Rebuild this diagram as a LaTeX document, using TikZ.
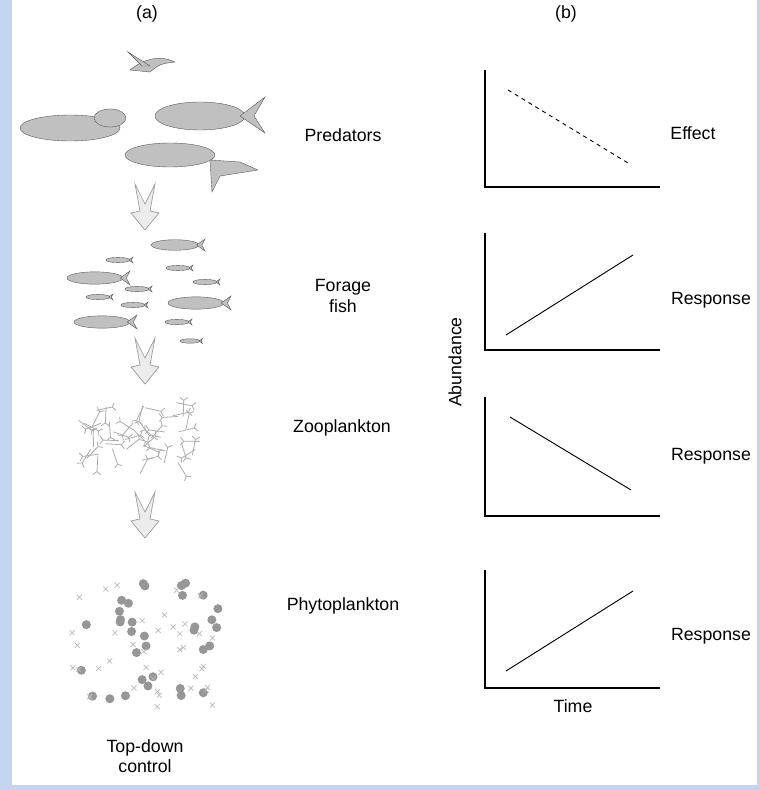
\documentclass[tikz,border=0pt]{standalone}
\usepackage{fontspec}
\setmainfont{Liberation Sans}
\usetikzlibrary{positioning,calc}

\definecolor{bgblue}{RGB}{196,212,238}
\definecolor{critter}{RGB}{150,150,150}

\tikzset{
    label/.style={font=\fontsize{13.3}{15.5}\selectfont, align=center},
    axes/.style={draw=black, line width=0.8pt},
    trend/.style={draw=black, line width=0.7pt},
    chevron/.style={draw=gray!80, fill=gray!15, line width=0.5pt},
    body/.style={draw=gray!70!black, fill=critter!60, line width=0.3pt}
}

% small fish: centre, half length
\newcommand{\fishat}[3]{%
    \fill[body] (#1,#2) ellipse ({#3} and {#3*0.22});
    \fill[body] (#1+#3*0.9,#2) -- (#1+#3*1.25,#2-#3*0.25) -- (#1+#3*1.12,#2) -- (#1+#3*1.25,#2+#3*0.25) -- cycle;
}
% hollow down arrow, top centre
\newcommand{\downchevron}[2]{%
    \draw[chevron] (#1-10,#2) -- (#1,#2+20) -- (#1+10,#2) -- (#1+5,#2+27)
        -- (#1+14,#2+29) -- (#1,#2+46) -- (#1-14,#2+29) -- (#1-5,#2+27) -- cycle;
}

\begin{document}
\begin{tikzpicture}[x=0.75pt, y=-0.75pt]
    % background
    \fill[bgblue] (0,0) rectangle (759,789);
    \fill[white] (12,0) rectangle (757,785);
    \useasboundingbox (0,0) rectangle (759,789);

    % Panel titles
    \node[label] (ta) at (147,14) {(a)};
    \node[label] (tb) at (566,14) {(b)};

    % Predators
    \fill[body] (130,70) .. controls (145,58) and (160,55) .. (175,62) .. controls (160,64) .. (150,72) -- cycle;
    \fill[body] (150,66) -- (128,52) -- (142,66) -- cycle;
    \fill[body] (70,128) ellipse (50 and 13);
    \fill[body] (110,118) ellipse (16 and 9);
    \fill[body] (200,116) ellipse (45 and 14);
    \fill[body] (240,116) -- (265,97) -- (254,116) -- (265,133) -- cycle;
    \fill[body] (170,155) ellipse (45 and 12);
    \fill[body] (210,160) -- (240,162) -- (258,170) -- (220,176) -- (212,192) -- cycle;

    % Forage fish
    \foreach \fx/\fy/\fl in {175/245/24, 118/260/12, 178/268/12, 95/278/28, 205/282/12,
        98/297/12, 137/289/12, 196/303/28, 133/305/12, 102/322/28, 177/322/12, 190/341/10}
        {\fishat{\fx}{\fy}{\fl}}

    % Zooplankton
    \pgfmathsetseed{7}
    \foreach \i in {1,...,45}{
        \pgfmathsetmacro{\zx}{140+58*rand}
        \pgfmathsetmacro{\zy}{437+33*rand}
        \pgfmathsetmacro{\za}{180*rand}
        \draw[gray!65, line width=0.6pt, rotate around={\za:(\zx,\zy)}] (\zx-8,\zy) -- (\zx+8,\zy) (\zx+8,\zy) -- (\zx+11,\zy-4) (\zx+8,\zy) -- (\zx+11,\zy+4);
    }

    % Phytoplankton
    \pgfmathsetseed{3}
    \foreach \i in {1,...,34}{
        \pgfmathsetmacro{\px}{147+72*rand}
        \pgfmathsetmacro{\py}{645+62*rand}
        \fill[critter] (\px,\py) circle (4.5);
    }
    \foreach \i in {1,...,40}{
        \pgfmathsetmacro{\px}{147+75*rand}
        \pgfmathsetmacro{\py}{645+64*rand}
        \draw[gray!55, line width=0.5pt] (\px-2.5,\py-2.5) -- (\px+2.5,\py+2.5) (\px-2.5,\py+2.5) -- (\px+2.5,\py-2.5);
    }

    % Arrows
    \downchevron{145}{184}
    \downchevron{145}{338}
    \downchevron{145}{492}

    % Labels (a)
    \node[label] (pred) at (343,135) {Predators};
    \node[label] (forage) at (343,296) {Forage\\fish};
    \node[label] (zoo) at (342,428) {Zooplankton};
    \node[label] (phyto) at (343,606) {Phytoplankton};
    \node[label] (control) at (145,756) {Top-down\\control};

    % Graphs (b)
    \foreach \gt/\gb in {70/187, 233/350, 397/516, 570/688}
        \draw[axes] (485,\gt) -- (485,\gb) -- (660,\gb);
    \draw[trend, dashed] (508,90) -- (628,163);
    \draw[trend] (506,335) -- (633,255);
    \draw[trend] (510,417) -- (631,490);
    \draw[trend] (506,671) -- (633,591);

    \node[label] (eff) at (693,133) {Effect};
    \node[label] (resp1) at (711,300) {Response};
    \node[label] (resp2) at (711,456) {Response};
    \node[label] (resp3) at (711,636) {Response};
    \node[label, rotate=90] (abund) at (455,362) {Abundance};
    \node[label] (time) at (573,706) {Time};
\end{tikzpicture}
\end{document}
